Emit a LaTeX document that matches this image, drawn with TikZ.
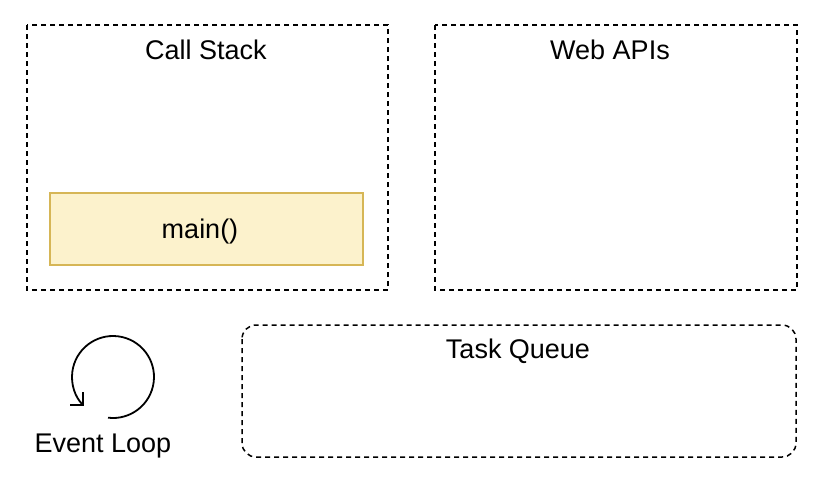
\documentclass[tikz,border=0pt]{standalone}
\usepackage{fontspec}
\setmainfont{Liberation Sans}
\usetikzlibrary{arrows.meta}
\begin{document}
\begin{tikzpicture}[x=1pt,y=-1pt,
    area/.style={draw=black, line width=1.5pt, dash pattern=on 5pt off 4pt},
    label/.style={font=\fontsize{27}{32}\selectfont, inner sep=0pt}]
  \definecolor{mainfill}{HTML}{FCF2CC}
  \definecolor{mainline}{HTML}{D6B656}
  \useasboundingbox (0,0) rectangle (820,480);

  \draw[area] (27,25) rectangle (388,290);
  \node[label] (stack) at (206,50) {Call Stack};
  \draw[area] (435,25) rectangle (797,290);
  \node[label] (web) at (610,50) {Web APIs};
  \node[draw=mainline, line width=1.5pt, fill=mainfill, minimum width=313pt, minimum height=72pt,
        label] (main) at (206.5,229) {};
  \node[label] (maintext) at (200,232) {main()};

  \draw[area, rounded corners=14pt] (242,325) rectangle (796,457);
  \node[label] (queue) at (518,351) {Task Queue};

  \draw[line width=1.8pt, -{Straight Barb[length=9pt,width=18pt]}]
    ([shift={(97:41)}]113,377) arc[start angle=97, end angle=-225, radius=41];
  \node[label] (loop) at (103,446) {Event Loop};
\end{tikzpicture}
\end{document}
